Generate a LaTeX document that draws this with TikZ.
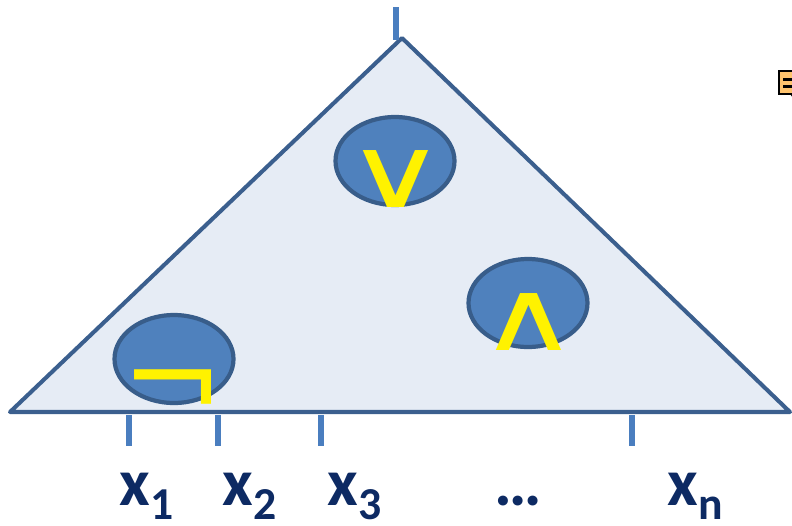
\documentclass[tikz,border=0pt]{standalone}
\usepackage{fontspec}
\usepackage{graphicx}
\setmainfont{Carlito}
\newfontfamily\symfont{DejaVu Sans}
\usepackage{tikz}
\usetikzlibrary{positioning,shapes.geometric}
\definecolor{triedge}{HTML}{3B5F8E}
\definecolor{trifill}{HTML}{E6ECF5}
\definecolor{gatefill}{HTML}{4F81BD}
\definecolor{gateedge}{HTML}{385D8A}
\definecolor{tickblue}{HTML}{4A7EBF}
\definecolor{labblue}{HTML}{0D2A63}
\definecolor{iconorange}{HTML}{FFC46E}
\newcommand{\lowsub}[1]{\raisebox{-8pt}{\fontsize{26}{26}\selectfont #1}}

\begin{document}
\begin{tikzpicture}[
  x=0.02cm, y=-0.02cm,
  gate/.style={ellipse, draw=gateedge, fill=gatefill, line width=2.4pt, minimum width=2.38cm, minimum height=1.76cm, inner sep=0pt},
  sym/.style={text=yellow, inner sep=0pt, font=\symfont\fontsize{56}{56}\selectfont},
  wire/.style={draw=tickblue, line width=3.6pt},
  var/.style={anchor=base west, inner sep=0pt, text=labblue, font=\bfseries\fontsize{38}{38}\selectfont}
]
\useasboundingbox (0,0) rectangle (792,525);

% formula tree
\draw[triedge, fill=trifill, line width=2.3pt, line join=round] (10,412) -- (402,38) -- (790,412) -- cycle;

% connectives
\node[gate] (or) at (395,161) {};
\node[gate] (and) at (528,303) {};
\node[gate] (not) at (174,359) {};
\node[sym, anchor=base] (orsym) at (396,207) {\scalebox{1.4}[1]{∨}};
\node[sym, anchor=base] (andsym) at (529,350) {\scalebox{1.4}[1]{∧}};
\node[sym, font=\symfont\fontsize{70}{70}\selectfont] (notsym) at (173,396) {¬};

% output and inputs
\coordinate (top) at (396,7);
\coordinate (topend) at (396,40);
\draw[wire] (top) -- (topend);
\foreach \px/\nm in {129/a,218/b,321/c,632/d}{
  \coordinate (in\nm) at (\px,415);
  \coordinate (in\nm end) at (\px,446);
  \draw[wire] (in\nm) -- (in\nm end);
}

\node[var] (x1) at (119,505) {x\lowsub{1}};
\node[var] (x2) at (222,505) {x\lowsub{2}};
\node[var] (x3) at (327,505) {x\lowsub{3}};
\node[var] (dots) at (494,505) {…};
\node[var] (xn) at (667,505) {x\lowsub{n}};

% clipped icon at the right edge
\draw[black, line width=1.5pt, fill=iconorange] (779,71) rectangle (796,94);
\fill[black] (783,78) rectangle (796,81);
\fill[black] (783,85) rectangle (796,88);
\fill[black] (790,94) -- (796,94) -- (796,102) -- cycle;
\end{tikzpicture}
\end{document}
